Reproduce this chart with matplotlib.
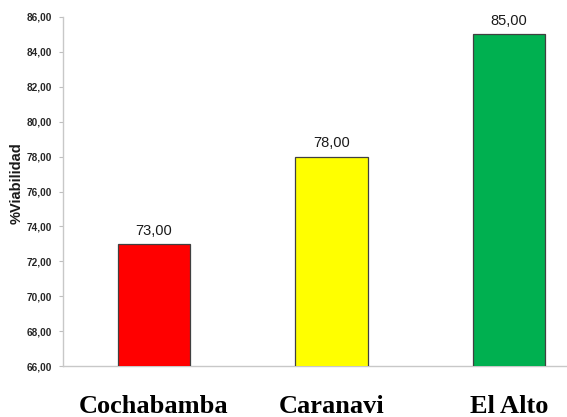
import numpy as np
import matplotlib.pyplot as plt

# viabilidad por localidad
localidades = ['Cochabamba', 'Caranavi', 'El Alto']
viabilidad = [73.00, 78.00, 85.00]
colores = ['#FF0000', '#FFFF00', '#00B050']
yticks = np.arange(66, 87, 2)

W, H = 567, 417
fig = plt.figure(figsize=(W/100, H/100), dpi=100)
ax = fig.add_axes([63/W, 1 - 366/H, 1 - 63/W, (366 - 17)/H])

x = np.arange(len(localidades))
ax.bar(x, viabilidad, width=0.406, color=colores, edgecolor='#404040', linewidth=0.9, zorder=3)

for xi, v in zip(x, viabilidad):
    ax.text(xi, v + 0.35, f'{v:.2f}'.replace('.', ','), ha='center', va='bottom',
            fontsize=10.5, color='#1a1a1a', family='Liberation Sans')

ax.set_xlim(-0.513, 2.327)
ax.set_ylim(66, 86)
ax.set_yticks(yticks)
ax.set_yticklabels([f'{t:.2f}'.replace('.', ',') for t in yticks],
                   fontsize=7.2, fontweight='bold', color='#262626', family='Liberation Sans')
ax.set_xticks([])
ax.tick_params(axis='y', length=3, color='#bfbfbf', pad=5)

for s in ['top', 'right']:
    ax.spines[s].set_visible(False)
for s in ['left', 'bottom']:
    ax.spines[s].set_color('#c8c8c8')
    ax.spines[s].set_linewidth(1)

fig.text(17/W, 1 - 183.5/H, '%Viabilidad', rotation=90, ha='center', va='center',
         fontsize=10.5, fontweight='bold', family='Liberation Sans', color='#1a1a1a')

# nombres de las localidades debajo del eje
for xi, nombre in zip(x, localidades):
    ax.annotate(nombre, xy=(xi, 0), xycoords=('data', 'axes fraction'),
                xytext=(0, -33.5), textcoords='offset points', ha='center', va='baseline',
                fontsize=19, fontweight='bold', family='Liberation Serif')

fig.savefig('out.png', dpi=100)
